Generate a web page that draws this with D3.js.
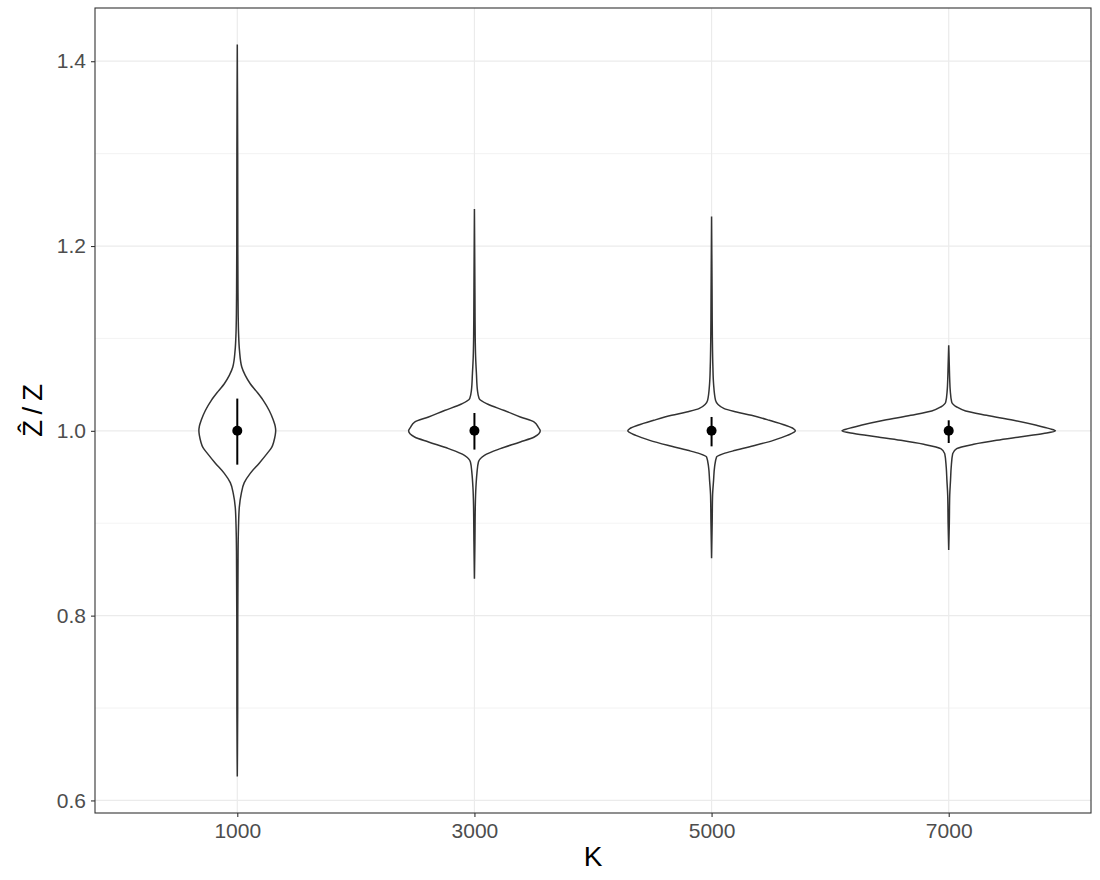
<!DOCTYPE html>
<html>
<head>
<meta charset="utf-8">
<script src="https://cdn.jsdelivr.net/npm/d3@7.9.0/dist/d3.min.js"></script>
<style>
  body { margin: 0; background: #fff; }
  svg { display: block; font-family: "Liberation Sans", Arial, sans-serif; }
</style>
</head>
<body>
<svg id="chart" width="1100" height="880"></svg>
<script>
// groups on the x axis
const categories = ['1000', '3000', '5000', '7000'];

// density profiles: [ratio, density]
const dens1000 = [
  [0.626, 0], [0.70, 0.4], [0.80, 0.5], [0.87, 0.8], [0.8955, 1.2], [0.917, 2],
  [0.932, 4], [0.944, 7], [0.954, 13], [0.965, 22], [0.9756, 30], [0.982, 34.5],
  [0.988, 36.5], [0.995, 38], [1.0, 38.5], [1.005, 38], [1.012, 36], [1.022, 32],
  [1.033, 26], [1.043, 19], [1.051, 13], [1.060, 8], [1.069, 4.5], [1.087, 2.2],
  [1.105, 1.3], [1.125, 0.9], [1.15, 0.7], [1.20, 0.5], [1.30, 0.4], [1.418, 0]
];
const dens3000 = [
  [0.840, 0], [0.88, 0.5], [0.92, 0.9], [0.939, 1.5], [0.954, 2.5], [0.9662, 4],
  [0.9735, 10], [0.9807, 26], [0.9879, 46], [0.9933, 60], [1.0, 66], [1.004, 64],
  [1.0095, 60], [1.015, 46], [1.022, 30], [1.029, 13], [1.035, 4.7], [1.044, 3],
  [1.062, 2], [1.08, 1.2], [1.10, 0.8], [1.15, 0.5], [1.240, 0]
];
const dens5000 = [
  [0.862, 0], [0.90, 0.6], [0.93, 1], [0.9464, 2], [0.9608, 3], [0.9717, 5],
  [0.9753, 12], [0.9789, 24], [0.9843, 44], [0.9897, 62], [0.9951, 76], [1.0, 84],
  [1.0024, 82], [1.006, 74], [1.0114, 58], [1.0168, 40], [1.0204, 25], [1.024, 12.7],
  [1.033, 4], [1.051, 2], [1.07, 1.3], [1.10, 0.8], [1.15, 0.5], [1.232, 0]
];
const dens7000 = [
  [0.871, 0], [0.90, 0.6], [0.93, 1], [0.9464, 1.8], [0.9608, 2.5], [0.9753, 4],
  [0.9807, 8], [0.9854, 25], [0.9897, 48], [0.9933, 71], [0.997, 95], [1.0, 107],
  [1.0024, 101], [1.006, 88], [1.0114, 65], [1.0168, 38], [1.0215, 17], [1.0258, 8],
  [1.031, 3], [1.044, 1.5], [1.055, 1], [1.07, 0.6], [1.0926, 0]
];
const densities = [dens1000, dens3000, dens5000, dens7000];

// summary: mean with lower / upper bound
const means = [1.0, 1.0, 1.0, 1.0];
const lowers = [0.9634, 0.9797, 0.9832, 0.9868];
const uppers = [1.0349, 1.0193, 1.0150, 1.0114];

// tick labels
const yTicks = [0.6, 0.8, 1.0, 1.2, 1.4];
const yMinor = [0.7, 0.9, 1.1, 1.3];

const panel = { left: 95, right: 1091, top: 8, bottom: 813 };
const svg = d3.select('#chart');

// y range with ggplot-like 5% expansion
const allVals = densities.flat().map(d => d[0]);
const yMin = d3.min(allVals), yMax = d3.max(allVals);
const pad = (yMax - yMin) * 0.05;
const y = d3.scaleLinear()
  .domain([yMin - pad, yMax + pad])
  .range([panel.bottom, panel.top]);

const x = d3.scalePoint()
  .domain(categories)
  .range([panel.left, panel.right])
  .padding(0.6);

// violin width: largest density gets 0.45 of a step
const maxDens = d3.max(densities.flat(), d => d[1]);
const w = d3.scaleLinear().domain([0, maxDens]).range([0, x.step() * 0.45]);

// grid
const grid = svg.append('g');
grid.selectAll('.minor')
  .data(yMinor)
  .join('line')
  .attr('x1', panel.left).attr('x2', panel.right)
  .attr('y1', d => y(d)).attr('y2', d => y(d))
  .attr('stroke', '#ebebeb').attr('stroke-width', 0.6);
grid.selectAll('.major')
  .data(yTicks)
  .join('line')
  .attr('x1', panel.left).attr('x2', panel.right)
  .attr('y1', d => y(d)).attr('y2', d => y(d))
  .attr('stroke', '#ebebeb').attr('stroke-width', 1.2);
grid.selectAll('.vmajor')
  .data(categories)
  .join('line')
  .attr('y1', panel.top).attr('y2', panel.bottom)
  .attr('x1', d => x(d)).attr('x2', d => x(d))
  .attr('stroke', '#ebebeb').attr('stroke-width', 1.2);

// violins
const area = d3.area()
  .y(d => y(d[0]))
  .curve(d3.curveMonotoneY);

categories.forEach((cat, i) => {
  const cx = x(cat);
  svg.append('path')
    .datum(densities[i])
    .attr('d', area.x0(d => cx - w(d[1])).x1(d => cx + w(d[1])))
    .attr('fill', '#fff')
    .attr('stroke', '#333')
    .attr('stroke-width', 1.5);
});

// point ranges
svg.selectAll('.range')
  .data(categories)
  .join('line')
  .attr('x1', d => x(d)).attr('x2', d => x(d))
  .attr('y1', (d, i) => y(lowers[i]))
  .attr('y2', (d, i) => y(uppers[i]))
  .attr('stroke', '#000')
  .attr('stroke-width', 2);
svg.selectAll('.pt')
  .data(categories)
  .join('circle')
  .attr('cx', d => x(d))
  .attr('cy', (d, i) => y(means[i]))
  .attr('r', 5)
  .attr('fill', '#000');

// panel border
svg.append('rect')
  .attr('x', panel.left).attr('y', panel.top)
  .attr('width', panel.right - panel.left)
  .attr('height', panel.bottom - panel.top)
  .attr('fill', 'none')
  .attr('stroke', '#333')
  .attr('stroke-width', 1.1);

// axes
const yAxis = svg.append('g')
  .attr('transform', `translate(${panel.left},0)`)
  .call(d3.axisLeft(y).tickValues(yTicks).tickFormat(d3.format('.1f')).tickSize(4).tickPadding(5));
const xAxis = svg.append('g')
  .attr('transform', `translate(0,${panel.bottom})`)
  .call(d3.axisBottom(x).tickSize(4).tickPadding(6));

[yAxis, xAxis].forEach(ax => {
  ax.select('.domain').remove();
  ax.selectAll('line').attr('stroke', '#333').attr('stroke-width', 1.1);
  ax.selectAll('text')
    .attr('fill', '#4d4d4d')
    .style('font-size', '21px')
    .style('font-family', '"Liberation Sans", Arial, sans-serif');
});

// axis titles
svg.append('text')
  .attr('x', (panel.left + panel.right) / 2)
  .attr('y', 866)
  .attr('text-anchor', 'middle')
  .style('font-size', '28px')
  .text('K');

svg.append('text')
  .attr('transform', `translate(42,${(panel.top + panel.bottom) / 2}) rotate(-90)`)
  .attr('text-anchor', 'middle')
  .style('font-size', '28px')
  .text('Z\u0302\u2009/\u2009Z');
</script>
</body>
</html>
